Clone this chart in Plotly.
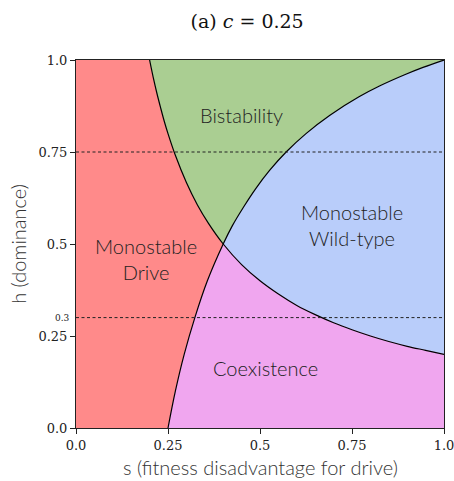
import plotly.graph_objects as go

# Boundary 1: drive invasion threshold (h*s = const), points (s, h)
curveA_s = [0.2, 0.21, 0.22, 0.23, 0.24, 0.25, 0.27, 0.3, 0.33, 0.36, 0.4,
            0.45, 0.5, 0.55, 0.6, 0.65, 0.7, 0.75, 0.8, 0.85, 0.9, 0.95, 1.0]
curveA_h = [1.0, 0.952, 0.909, 0.870, 0.833, 0.8, 0.741, 0.667, 0.606, 0.556, 0.5,
            0.444, 0.4, 0.364, 0.333, 0.308, 0.286, 0.267, 0.25, 0.235, 0.222, 0.211, 0.2]

# Boundary 2: wild-type invasion threshold, points (s, h)
curveB_h = [0.0, 0.1, 0.2, 0.3, 0.4, 0.5, 0.55, 0.6, 0.65, 0.7, 0.75, 0.8,
            0.85, 0.9, 0.93, 0.96, 0.98, 1.0]
curveB_s = [0.25, 0.270, 0.294, 0.323, 0.357, 0.4, 0.425, 0.455, 0.488, 0.526, 0.571, 0.625,
            0.690, 0.769, 0.826, 0.893, 0.943, 1.0]

region_names = ["Monostable<br>Drive", "Bistability", "Monostable<br>Wild-type", "Coexistence"]
region_label_s = [0.19, 0.45, 0.75, 0.515]
region_label_h = [0.46, 0.85, 0.552, 0.163]
region_colors = ["#FF8A8A", "#AACE92", "#B9CDFA", "#F0A6EF"]

dashed_h = [0.3, 0.75]
x_ticks = [0.0, 0.25, 0.5, 0.75, 1.0]
x_ticktext = ["0.0", "0.25", "0.5", "0.75", "1.0"]
y_ticks = [0.0, 0.25, 0.5, 0.75, 1.0]
y_ticktext = ["0.0", "0.25", "0.5", "0.75", "1.0"]

iA = curveA_s.index(0.4)
iB = curveB_h.index(0.5)
A_up_s, A_up_h = curveA_s[:iA + 1], curveA_h[:iA + 1]      # from (0.2,1) to (0.4,0.5)
A_lo_s, A_lo_h = curveA_s[iA:], curveA_h[iA:]              # from (0.4,0.5) to (1,0.2)
B_lo_s, B_lo_h = curveB_s[:iB + 1], curveB_h[:iB + 1]      # from (0.25,0) to (0.4,0.5)
B_up_s, B_up_h = curveB_s[iB:], curveB_h[iB:]              # from (0.4,0.5) to (1,1)

# polygons
red_s = [0.0] + B_lo_s + A_up_s[::-1][1:] + [0.0]
red_h = [0.0] + B_lo_h + A_up_h[::-1][1:] + [1.0]
green_s = A_up_s + B_up_s[1:]
green_h = A_up_h + B_up_h[1:]
blue_s = B_up_s[::-1] + A_lo_s[1:]
blue_h = B_up_h[::-1] + A_lo_h[1:]
pink_s = B_lo_s + A_lo_s[1:] + [1.0]
pink_h = B_lo_h + A_lo_h[1:] + [0.0]

fig = go.Figure()
for xs, ys, col in [(red_s, red_h, region_colors[0]), (green_s, green_h, region_colors[1]),
                    (blue_s, blue_h, region_colors[2]), (pink_s, pink_h, region_colors[3])]:
    fig.add_trace(go.Scatter(x=xs, y=ys, fill="toself", fillcolor=col, mode="lines",
                             line=dict(width=0.5, color=col), hoverinfo="skip", showlegend=False))

fig.add_trace(go.Scatter(x=curveA_s, y=curveA_h, mode="lines",
                         line=dict(color="black", width=1.2, shape="spline"), showlegend=False))
fig.add_trace(go.Scatter(x=curveB_s, y=curveB_h, mode="lines",
                         line=dict(color="black", width=1.2, shape="spline"), showlegend=False))

for hv in dashed_h:
    fig.add_shape(type="line", x0=0, x1=1, y0=hv, y1=hv, xref="x", yref="y",
                  line=dict(color="#222", width=1, dash="3px,2.5px"), layer="above")

for name, sx, hy in zip(region_names, region_label_s, region_label_h):
    fig.add_annotation(x=sx, y=hy, text=name, showarrow=False,
                       font=dict(family="Lato", size=20, weight=300, color="#222222"))

# small 0.3 label
fig.add_annotation(x=0, y=0.3, xref="paper", yref="y", text="0.3", showarrow=False,
                   xanchor="right", xshift=-4, font=dict(family="DejaVu Serif", size=9, color="#222"))

# axis titles
fig.add_annotation(x=0.5, y=-0.106, xref="paper", yref="paper", yanchor="middle",
                   text="s (fitness disadvantage for drive)", showarrow=False,
                   font=dict(family="Lato", size=20, weight=300, color="#333"))
fig.add_annotation(x=-0.158, y=0.5, xref="paper", yref="paper", textangle=-90,
                   xanchor="center", yanchor="middle",
                   text="h (dominance)", showarrow=False,
                   font=dict(family="Lato", size=20, weight=300, color="#333"))

axis_common = dict(range=[0, 1], showgrid=False, zeroline=False, showline=True,
                   linecolor="#222", linewidth=1, mirror=True, ticks="outside",
                   ticklen=5, tickcolor="#222", ticklabeloverflow="allow", automargin=False,
                   tickfont=dict(family="DejaVu Serif", size=13, color="#222"))

fig.update_xaxes(tickvals=x_ticks, ticktext=x_ticktext, **axis_common)
fig.update_yaxes(tickvals=y_ticks, ticktext=y_ticktext, **axis_common)

fig.update_layout(
    width=454, height=481,
    margin=dict(l=76, r=10, t=60, b=53),
    plot_bgcolor="white", paper_bgcolor="white",
    title=dict(text="(a) <i>c</i> = 0.25", x=0.465, xref="paper", xanchor="center",
               y=0.955, yanchor="middle", automargin=False,
               font=dict(family="DejaVu Serif", size=19, color="#111")),
)

fig.write_html("out.html", config={"displayModeBar": False},
               post_script="document.body.style.margin='0';")
